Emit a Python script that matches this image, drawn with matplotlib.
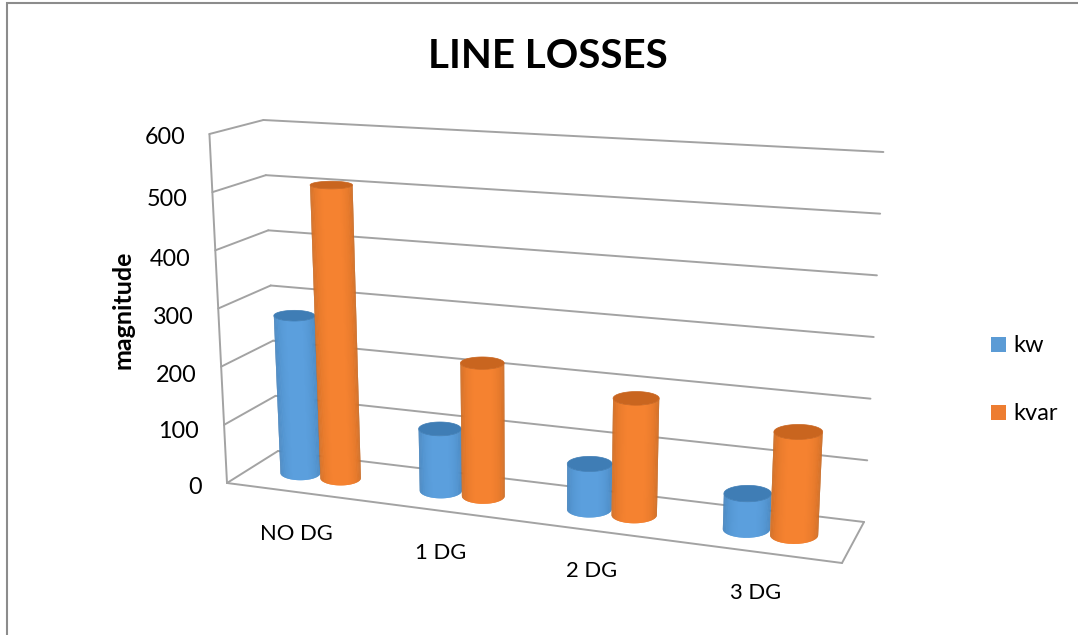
import numpy as np
import matplotlib
matplotlib.use("Agg")
import matplotlib.pyplot as plt
from matplotlib.collections import PolyCollection

plt.rcParams['font.family'] = ['Lato', 'DejaVu Sans']

TITLE = "LINE LOSSES"
Y_LABEL = "magnitude"
categories = ["NO DG", "1 DG", "2 DG", "3 DG"]
kw = [275, 105, 75, 57]
kvar = [508, 224, 191, 164]
y_ticks = [0, 100, 200, 300, 400, 500, 600]
Y_MAX = 600

W, H = 1078, 635
fig = plt.figure(figsize=(W / 100, H / 100), dpi=100)
ax = fig.add_axes([0, 0, 1, 1])
ax.set_xlim(0, W)
ax.set_ylim(H, 0)
ax.axis("off")

# Floor corners of the 3D box in pixels.
FL, FR = np.array([227.0, 483.0]), np.array([842.0, 563.0])
BL, BR = np.array([278.0, 451.0]), np.array([864.0, 522.0])
PERSPECTIVE = 0.12
LEAN = 0.058
VANISH_X = 530.0

# Height in pixels per unit of value varies linearly across the floor.
_rise = np.linalg.solve(
    np.array([[1, FL[0], FL[1]], [1, BL[0], BL[1]], [1, BR[0], BR[1]]]),
    np.array([349 / 600, 331 / 600, 370 / 600]),
)


def project(u, d, v):
    """Chart coordinates (category fraction, depth fraction, value) to pixels."""
    u, d = np.asarray(u, float), np.asarray(d, float)
    s = u / (1 + PERSPECTIVE * (1 - u))
    x0 = (FL[0] + (FR[0] - FL[0]) * s) * (1 - d) + (BL[0] + (BR[0] - BL[0]) * s) * d
    y0 = (FL[1] + (FR[1] - FL[1]) * s) * (1 - d) + (BL[1] + (BR[1] - BL[1]) * s) * d
    rise = _rise[0] + _rise[1] * x0 + _rise[2] * y0
    return x0 + (x0 - VANISH_X) * LEAN * v / Y_MAX, y0 - rise * v


def seg(p, q, **kw_line):
    ax.plot([p[0], q[0]], [p[1], q[1]], solid_capstyle="round", **kw_line)


GRID = dict(color="#a3a3a3", lw=1.4, zorder=1)
for v in y_ticks:
    seg(project(0, 0, v), project(0, 1, v), **GRID)
    seg(project(0, 1, v), project(1, 1, v), **GRID)
seg(project(0, 0, 0), project(0, 0, Y_MAX), **GRID)
seg(project(0, 0, 0), project(1, 0, 0), **GRID)
seg(project(1, 0, 0), project(1, 1, 0), **GRID)


def mix(edge, mid, t):
    t = np.clip(t, 0, 1)
    return tuple(np.array(edge) * (1 - t) + np.array(mid) * t)


def ellipse(u_c, value, theta):
    """Axis-aligned end ellipse of a cylinder at the given value."""
    ru, ry_frac = 0.0365, 0.22
    cx, cy = project(u_c, 0.5, value)
    lx, _ = project(u_c - ru, 0.5, value)
    rx_px, _ = project(u_c + ru, 0.5, value)
    _, fy = project(u_c, 0.5 - ry_frac, value)
    return cx + (rx_px - lx) / 2 * np.cos(theta), cy + (fy - cy) * np.sin(theta)


def cylinder(u_c, value, mid, edge, cap, z):
    th = np.linspace(np.pi, 0, 61)
    bx, by = ellipse(u_c, 0, th)
    tx, ty = ellipse(u_c, value, th)
    polys, cols = [], []
    m, e = matplotlib.colors.to_rgb(mid), matplotlib.colors.to_rgb(edge)
    # Each strip reaches over the next one, so no seams show between them.
    for i in range(len(th) - 1):
        j = min(i + 2, len(th) - 1)
        polys.append([(bx[i], by[i]), (bx[j], by[j]), (tx[j], ty[j]), (tx[i], ty[i])])
        s = np.sin((th[i] + th[i + 1]) / 2)
        cols.append(mix(e, m, s ** 0.7 * 1.05))
    ax.add_collection(PolyCollection(polys, facecolors=cols, edgecolors="none", zorder=z))
    cx, cy = ellipse(u_c, value, np.linspace(0, 2 * np.pi, 72))
    ax.fill(cx, cy, color=cap, lw=0.5, zorder=z + 0.1)


OFFSET = 0.0365
z = 2
for i in range(len(categories)):
    u_mid = (i + 0.5) / len(categories)
    cylinder(u_mid - OFFSET, kw[i], "#5B9FDD", "#3E78AE", "#3F7DB5", z)
    cylinder(u_mid + OFFSET, kvar[i], "#F58230", "#B9611F", "#C9651F", z + 1)
    z += 2

# The value labels step outwards from the axis as they climb.
tick_right = [202, 199, 197, 194, 191, 188, 185]
tick_mid = [487, 432, 375, 318, 259, 199, 138]
for v, tx, ty in zip(y_ticks, tick_right, tick_mid):
    ax.text(tx, ty, str(v), ha="right", va="center", fontsize=16.8, color="black")

ax.text(123, 310, Y_LABEL, rotation=90, ha="center", va="center", fontsize=18, fontweight="bold", color="black")
ax.text(548, 57, TITLE, ha="center", va="center", fontsize=29, fontweight="bold", color="black")

for name, x, y in zip(categories, [296, 441, 592, 756], [534, 553, 571, 593]):
    ax.text(x, y, name, ha="center", va="center", fontsize=15.8, color="black")

for name, col, y in zip(["kw", "kvar"], ["#5B9BD5", "#ED7D31"], [344.5, 412.5]):
    ax.fill_between([991, 1006], y - 7.5, y + 7.5, color=col, lw=0, zorder=3)
    ax.text(1013, y + 1, name, ha="left", va="center", fontsize=17, color="black")

# Chart area border along the top and left.
ax.plot([6.5, 6.5, W], [H, 2.5, 2.5], color="#8c8c8c", lw=1.5, solid_joinstyle="miter")

fig.savefig("out.png", dpi=100)
